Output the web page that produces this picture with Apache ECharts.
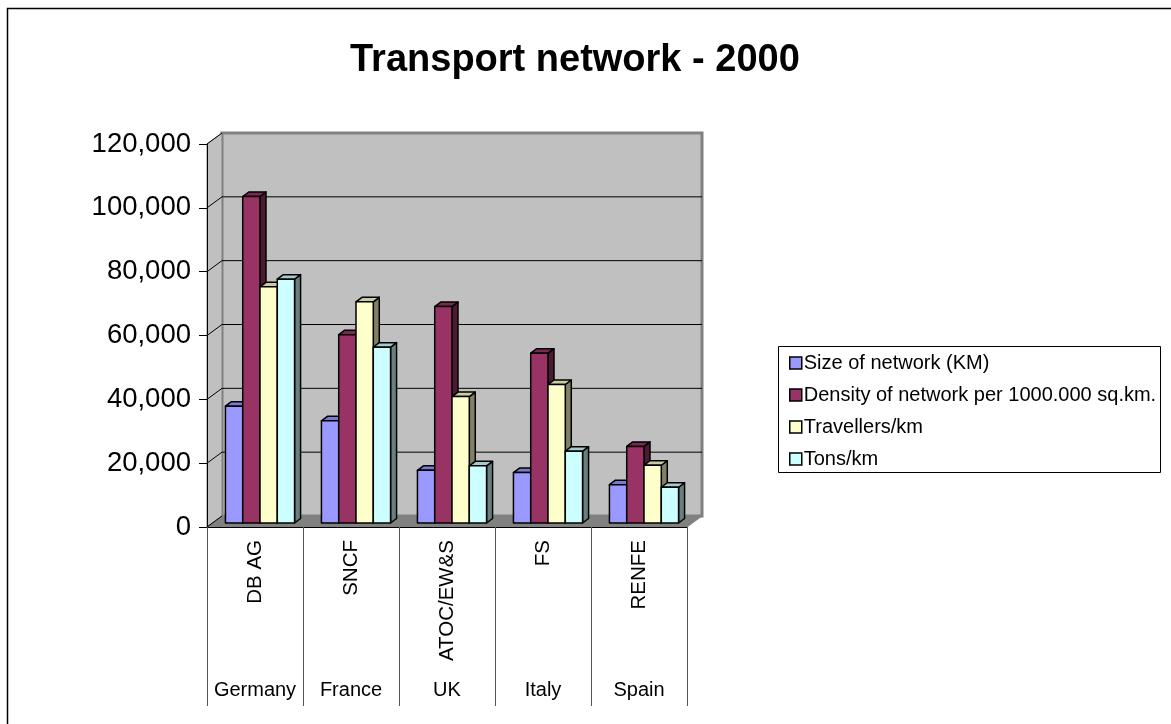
<!DOCTYPE html>
<html>
<head>
<meta charset="utf-8">
<script src="https://cdn.jsdelivr.net/npm/echarts@6/dist/echarts.min.js"></script>
<style>
  html, body { margin: 0; padding: 0; background: #fff; }
  #chart { width: 1171px; height: 724px; }
</style>
</head>
<body>
<div id="chart"></div>
<script>
const companies = ['DB AG', 'SNCF', 'ATOC/EW&S', 'FS', 'RENFE'];
const countries = ['Germany', 'France', 'UK', 'Italy', 'Spain'];
const seriesNames = ['Size of network (KM)', 'Density of network per 1000.000 sq.km.', 'Travellers/km', 'Tons/km'];
const sizeOfNetwork = [36600, 32000, 16500, 15800, 12000];
const densityOfNetwork = [102300, 59000, 67800, 53200, 24000];
const travellersKm = [74000, 69300, 39600, 43400, 18100];
const tonsKm = [76400, 55100, 17900, 22500, 11200];
const yTicks = [0, 20000, 40000, 60000, 80000, 100000, 120000];

const FONT = "'Liberation Sans', Arial, sans-serif";
const colors = ['#9999FF', '#993366', '#FFFFCC', '#CCFFFF'];
const sideColors = ['#4D4D80', '#4D1A33', '#808066', '#668080'];
const topColors = ['#7A7ACC', '#7A2952', '#CCCCA3', '#A3CCCC'];
const DEPTH = [15, -11];      // wall depth offset
const BAR_SHIFT = [5, -4];    // bar plane offset from front
const BAR_DEPTH = [6, -4.5];  // bar's own depth
const BAR_FRAC = 0.18;

function wallsRender(params, api) {
  const cs = params.coordSys;
  const x0 = cs.x, y0 = cs.y, w = cs.width, h = cs.height;
  const dx = DEPTH[0], dy = DEPTH[1];
  const children = [];
  children.push({ type: 'rect', shape: { x: x0 + dx, y: y0 + dy, width: w, height: h },
    style: { fill: '#C0C0C0', stroke: '#808080', lineWidth: 3 } });
  children.push({ type: 'polygon', shape: { points: [[x0, y0], [x0 + dx, y0 + dy], [x0 + dx, y0 + h + dy], [x0, y0 + h]] },
    style: { fill: '#C0C0C0', stroke: '#808080', lineWidth: 1 } });
  children.push({ type: 'polygon', shape: { points: [[x0, y0 + h], [x0 + dx, y0 + h + dy], [x0 + w + dx, y0 + h + dy], [x0 + w, y0 + h]] },
    style: { fill: '#808080', stroke: '#808080', lineWidth: 1 } });
  yTicks.forEach(function (v) {
    const y = api.coord([0, v])[1];
    children.push({ type: 'line', shape: { x1: x0, y1: y, x2: x0 + dx, y2: y + dy },
      style: { stroke: '#000', lineWidth: 1 } });
    if (v > 0 && v < yTicks[yTicks.length - 1]) {
      children.push({ type: 'line', shape: { x1: x0 + dx, y1: y + dy, x2: x0 + w + dx, y2: y + dy },
        style: { stroke: '#000', lineWidth: 1 } });
    }
  });
  return { type: 'group', children: children };
}

function makeBarRender(k) {
  return function (params, api) {
    const cat = api.value(0);
    const c = api.coord([cat, api.value(1)]);
    const b = api.coord([cat, 0]);
    const bandW = api.size([1, 0])[0];
    const bw = bandW * BAR_FRAC;
    const x1 = c[0] + (k - 2) * bw + BAR_SHIFT[0];
    const x2 = x1 + bw;
    const yt = c[1] + BAR_SHIFT[1];
    const yb = b[1] + BAR_SHIFT[1];
    const ddx = BAR_DEPTH[0], ddy = BAR_DEPTH[1];
    const stroke = { stroke: '#000', lineWidth: 1.5, lineJoin: 'round' };
    return {
      type: 'group',
      children: [
        { type: 'polygon', shape: { points: [[x2, yt], [x2 + ddx, yt + ddy], [x2 + ddx, yb + ddy], [x2, yb]] },
          style: Object.assign({ fill: sideColors[k] }, stroke) },
        { type: 'polygon', shape: { points: [[x1, yt], [x2, yt], [x2 + ddx, yt + ddy], [x1 + ddx, yt + ddy]] },
          style: Object.assign({ fill: topColors[k] }, stroke) },
        { type: 'rect', shape: { x: x1, y: yt, width: bw, height: yb - yt },
          style: Object.assign({ fill: colors[k] }, stroke) }
      ]
    };
  };
}

const allValues = [sizeOfNetwork, densityOfNetwork, travellersKm, tonsKm];

const series = [{
  type: 'custom',
  name: '__walls',
  renderItem: wallsRender,
  data: [[0, 0]],
  silent: true,
  z: 1
}];
allValues.forEach(function (vals, k) {
  series.push({
    type: 'custom',
    name: seriesNames[k],
    color: colors[k],
    itemStyle: { color: colors[k] },
    renderItem: makeBarRender(k),
    encode: { x: 0, y: 1 },
    data: vals.map(function (v, i) { return [i, v]; }),
    z: 3
  });
});

const chart = echarts.init(document.getElementById('chart'), null, { renderer: 'canvas' });
chart.setOption({
  backgroundColor: '#FFFFFF',
  animation: false,
  textStyle: { fontFamily: FONT, color: '#000' },
  title: {
    text: 'Transport network - 2000',
    left: 345, top: 37,
    textStyle: { fontFamily: FONT, fontSize: 38, fontWeight: 'bold', color: '#000' }
  },
  graphic: [
    { type: 'rect', shape: { x: 7.5, y: 8.5, width: 1200, height: 800 },
      style: { fill: 'none', stroke: '#000', lineWidth: 1.5 }, z: 100 },
    { type: 'rect', shape: { x: 778.5, y: 346.5, width: 382, height: 126 },
      style: { fill: '#fff', stroke: '#000', lineWidth: 1 }, z: 0 }
  ],
  legend: {
    orient: 'vertical',
    left: 784, top: 348,
    data: seriesNames,
    icon: 'rect',
    itemWidth: 12, itemHeight: 12,
    itemGap: 12,
    itemStyle: { borderColor: '#000', borderWidth: 1.5 },
    textStyle: { fontFamily: FONT, fontSize: 20, color: '#000', padding: [0, 0, 0, -3] },
    z: 10
  },
  grid: { left: 207, top: 144, width: 480, height: 383, containLabel: false },
  xAxis: [{
    type: 'category',
    data: companies,
    position: 'bottom',
    z: 10,
    axisLine: { show: true, lineStyle: { color: '#000', width: 1 } },
    axisTick: { show: true, interval: 0, length: 179, lineStyle: { color: '#555', width: 1 } },
    axisLabel: { interval: 0, rotate: 90, margin: 13, fontFamily: FONT, fontSize: 20.5, color: '#000' },
    splitLine: { show: false }
  }, {
    type: 'category',
    data: countries,
    position: 'bottom',
    offset: 145,
    z: 10,
    axisLine: { show: false },
    axisTick: { show: false },
    axisLabel: { interval: 0, margin: 8, fontFamily: FONT, fontSize: 20, color: '#000' },
    splitLine: { show: false }
  }],
  yAxis: {
    type: 'value',
    min: 0, max: 120000, interval: 20000,
    z: 10,
    axisLine: { show: true, lineStyle: { color: '#000', width: 1 } },
    axisTick: { show: true, length: 8, lineStyle: { color: '#000' } },
    axisLabel: {
      margin: 16, fontFamily: FONT, fontSize: 27.5, color: '#000',
      formatter: function (v) { return v.toLocaleString('en-US'); }
    },
    splitLine: { show: false }
  },
  series: series
});
</script>
</body>
</html>
